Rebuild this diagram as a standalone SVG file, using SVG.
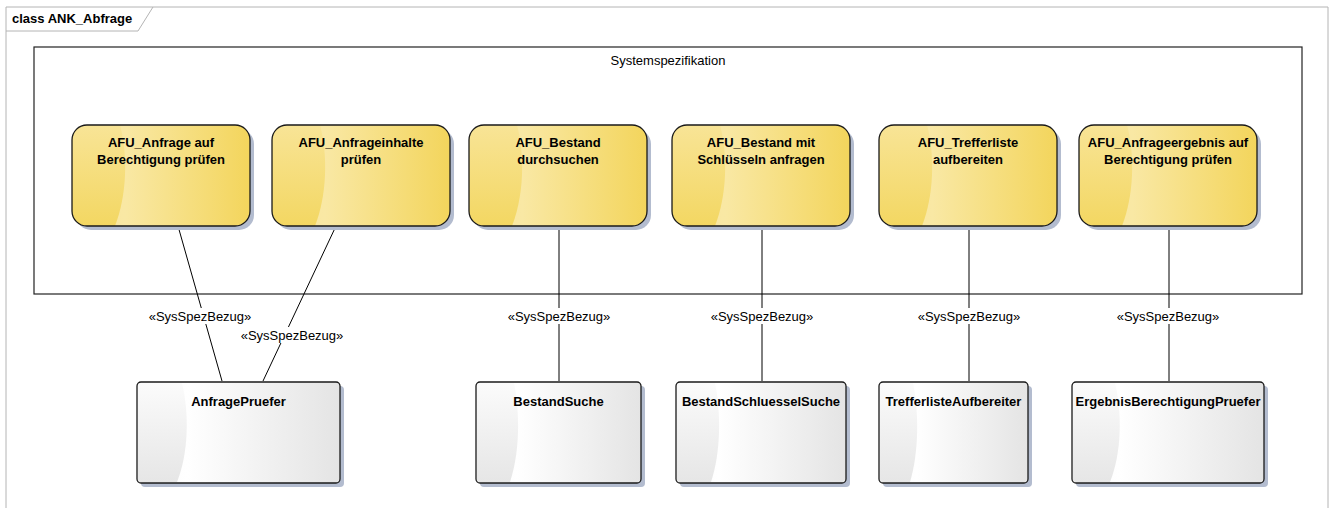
<svg xmlns="http://www.w3.org/2000/svg" xmlns:xlink="http://www.w3.org/1999/xlink" width="1332" height="508" viewBox="0 0 1332 508">
<style>
.t{font-family:"Liberation Sans",Arial,sans-serif;font-size:13px;fill:#000}
.b{font-weight:bold}
.c{text-anchor:middle}
.con{stroke:#000;stroke-width:1;fill:none}
.lbg{fill:#fff}
.sh{fill:#b3bccf}
.wb{fill:url(#gw)}
.wl{fill:url(#gwl)}
.bd{fill:none;stroke:#1a1a1a;stroke-width:1.3}
</style>
<defs>
<linearGradient id="gy" x1="0" y1="0" x2="1" y2="0">
<stop offset="0" stop-color="#f8e69c"/>
<stop offset="0.3" stop-color="#f9e8a4"/>
<stop offset="1" stop-color="#f3d55c"/>
</linearGradient>
<linearGradient id="gyl" x1="0" y1="0" x2="0" y2="1">
<stop offset="0" stop-color="#f8e496"/>
<stop offset="1" stop-color="#f3d762"/>
</linearGradient>
<linearGradient id="gw" x1="0" y1="0" x2="1" y2="0">
<stop offset="0" stop-color="#fafafa"/>
<stop offset="0.25" stop-color="#ffffff"/>
<stop offset="1" stop-color="#e4e4e4"/>
</linearGradient>
<linearGradient id="gwl" x1="0" y1="0" x2="0" y2="1">
<stop offset="0" stop-color="#fbfbfb"/>
<stop offset="1" stop-color="#e6e6e6"/>
</linearGradient>
<clipPath id="cy" clipPathUnits="userSpaceOnUse"><rect x="0" y="0" width="178" height="101" rx="15"/></clipPath>
<g id="yshape">
<rect x="4" y="4" width="178" height="101" rx="15" fill="#b3bccf"/>
<rect x="0" y="0" width="178" height="101" rx="15" fill="url(#gy)"/>
<path d="M0,0 H48 C56,30 55,70 43,101 H0 Z" fill="url(#gyl)" clip-path="url(#cy)"/>
<rect x="0" y="0" width="178" height="101" rx="15" fill="none" stroke="#1a1a1a" stroke-width="1.3"/>
</g>
</defs>
<rect x="0" y="0" width="1332" height="508" fill="#fff"/>
<g id="frame">
<path d="M6,515 V7 H1328 V515" fill="none" stroke="#b4b4b4" stroke-width="1"/>
<path d="M6,31 H138 L153,7" fill="none" stroke="#b4b4b4" stroke-width="1"/>
<text class="t b" x="12" y="23">class ANK_Abfrage</text>
</g>
<g id="systemspezifikation">
<rect x="34" y="47" width="1268" height="247" fill="none" stroke="#222" stroke-width="1.2"/>
<text class="t c" x="668" y="65">Systemspezifikation</text>
</g>
<g id="connectors">
<path class="con" d="M178,226 L222,381"/>
<path class="con" d="M336,226 L263,381"/>
<path class="con" d="M559,226 V381"/>
<path class="con" d="M762,226 V381"/>
<path class="con" d="M969,226 V381"/>
<path class="con" d="M1169,226 V381"/>
<rect class="lbg" x="147" y="308" width="106" height="16"/>
<text class="t c" x="200" y="321">«SysSpezBezug»</text>
<rect class="lbg" x="239" y="327" width="106" height="16"/>
<text class="t c" x="292" y="340">«SysSpezBezug»</text>
<rect class="lbg" x="506" y="308" width="106" height="16"/>
<text class="t c" x="559" y="321">«SysSpezBezug»</text>
<rect class="lbg" x="709" y="308" width="106" height="16"/>
<text class="t c" x="762" y="321">«SysSpezBezug»</text>
<rect class="lbg" x="916" y="308" width="106" height="16"/>
<text class="t c" x="969" y="321">«SysSpezBezug»</text>
<rect class="lbg" x="1115" y="308" width="106" height="16"/>
<text class="t c" x="1168" y="321">«SysSpezBezug»</text>
</g>
<g id="afu1" transform="translate(72,125)">
<use xlink:href="#yshape"/>
<text class="t b c" x="89" y="22">AFU_Anfrage auf</text>
<text class="t b c" x="89" y="39">Berechtigung prüfen</text>
</g>
<g id="afu2" transform="translate(272,125)">
<use xlink:href="#yshape"/>
<text class="t b c" x="89" y="22">AFU_Anfrageinhalte</text>
<text class="t b c" x="89" y="39">prüfen</text>
</g>
<g id="afu3" transform="translate(469,125)">
<use xlink:href="#yshape"/>
<text class="t b c" x="89" y="22">AFU_Bestand</text>
<text class="t b c" x="89" y="39">durchsuchen</text>
</g>
<g id="afu4" transform="translate(672,125)">
<use xlink:href="#yshape"/>
<text class="t b c" x="89" y="22">AFU_Bestand mit</text>
<text class="t b c" x="89" y="39">Schlüsseln anfragen</text>
</g>
<g id="afu5" transform="translate(879,125)">
<use xlink:href="#yshape"/>
<text class="t b c" x="89" y="22">AFU_Trefferliste</text>
<text class="t b c" x="89" y="39">aufbereiten</text>
</g>
<g id="afu6" transform="translate(1079,125)">
<use xlink:href="#yshape"/>
<text class="t b c" x="89" y="22">AFU_Anfrageergebnis auf</text>
<text class="t b c" x="89" y="39">Berechtigung prüfen</text>
</g>
<g id="anfragepruefer" transform="translate(137,382)">
<rect class="sh" x="4" y="4" width="203" height="101" rx="4"/>
<rect class="wb" x="0" y="0" width="203" height="101" rx="4"/>
<path class="wl" d="M1,1 H45 C52,30 52,70 40,100 H1 Z"/>
<rect class="bd" x="0" y="0" width="203" height="101" rx="4"/>
<text class="t b c" x="101.5" y="24">AnfragePruefer</text>
</g>
<g id="bestandsuche" transform="translate(476,382)">
<rect class="sh" x="4" y="4" width="165" height="101" rx="4"/>
<rect class="wb" x="0" y="0" width="165" height="101" rx="4"/>
<path class="wl" d="M1,1 H38 C44,30 44,70 34,100 H1 Z"/>
<rect class="bd" x="0" y="0" width="165" height="101" rx="4"/>
<text class="t b c" x="82.5" y="24">BestandSuche</text>
</g>
<g id="bestandschluesselsuche" transform="translate(676,382)">
<rect class="sh" x="4" y="4" width="170" height="101" rx="4"/>
<rect class="wb" x="0" y="0" width="170" height="101" rx="4"/>
<path class="wl" d="M1,1 H39 C45,30 45,70 35,100 H1 Z"/>
<rect class="bd" x="0" y="0" width="170" height="101" rx="4"/>
<text class="t b c" x="85" y="24">BestandSchluesselSuche</text>
</g>
<g id="trefferlisteaufbereiter" transform="translate(879,382)">
<rect class="sh" x="4" y="4" width="149" height="101" rx="4"/>
<rect class="wb" x="0" y="0" width="149" height="101" rx="4"/>
<path class="wl" d="M1,1 H34 C40,30 40,70 31,100 H1 Z"/>
<rect class="bd" x="0" y="0" width="149" height="101" rx="4"/>
<text class="t b c" x="74.5" y="24">TrefferlisteAufbereiter</text>
</g>
<g id="ergebnisberechtigungpruefer" transform="translate(1072,382)">
<rect class="sh" x="4" y="4" width="192" height="101" rx="4"/>
<rect class="wb" x="0" y="0" width="192" height="101" rx="4"/>
<path class="wl" d="M1,1 H43 C50,30 50,70 38,100 H1 Z"/>
<rect class="bd" x="0" y="0" width="192" height="101" rx="4"/>
<text class="t b c" x="96" y="24">ErgebnisBerechtigungPruefer</text>
</g>
</svg>
